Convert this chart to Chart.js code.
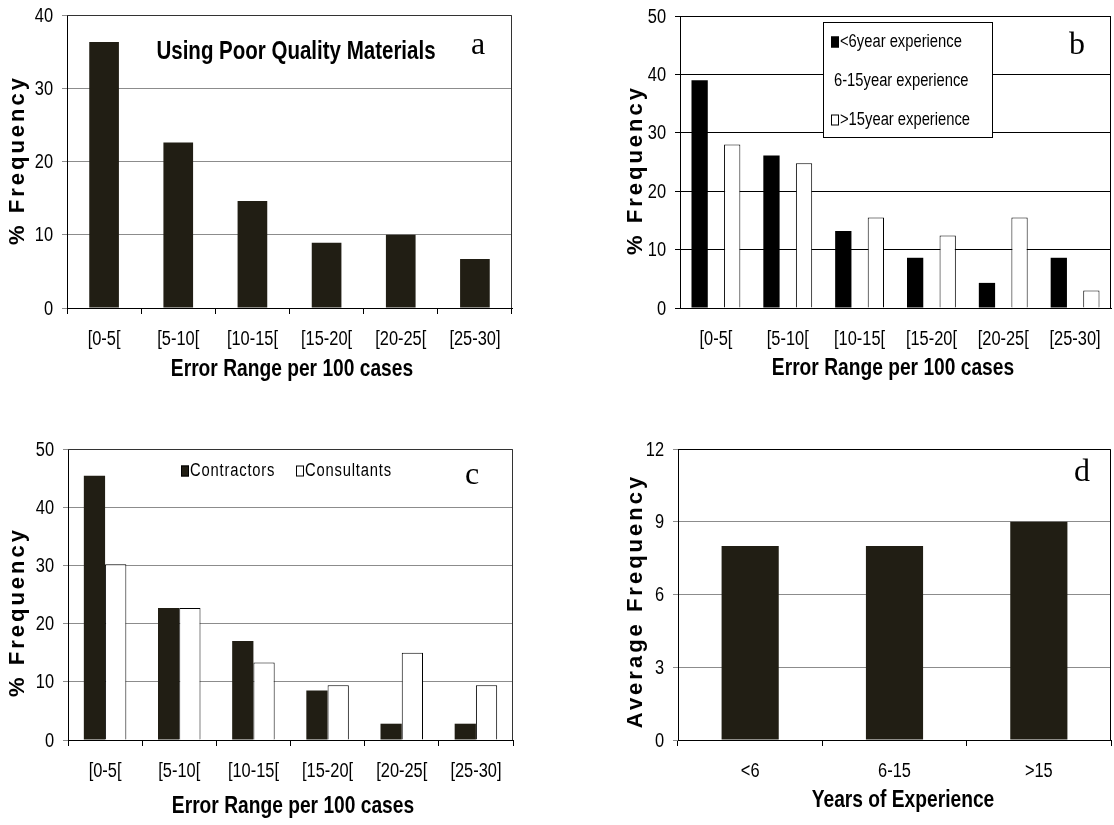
<!DOCTYPE html>
<html>
<head>
<meta charset="utf-8">
<script src="https://cdn.jsdelivr.net/npm/chart.js@4.4.1/dist/chart.umd.min.js"></script>
<style>
  html, body { margin: 0; padding: 0; background: #fff; }
  #page { position: relative; width: 1114px; height: 825px; overflow: hidden; background: #fff; }
  #page canvas { position: absolute; }
</style>
</head>
<body>
<div id="page">
  <canvas id="chartA"></canvas>
  <canvas id="chartB"></canvas>
  <canvas id="chartC"></canvas>
  <canvas id="chartD"></canvas>
</div>
<script>
// ---- data ----
const errorRanges = ['[0-5[', '[5-10[', '[10-15[', '[15-20[', '[20-25[', '[25-30]'];
const poorMaterials = [36.3, 22.6, 14.6, 8.9, 10.0, 6.7];
const expUnder6 = [39.0, 26.1, 13.2, 8.6, 4.3, 8.6];
const exp6to15 = [null, null, null, null, null, null];
const expOver15 = [28.0, 24.8, 15.5, 12.4, 15.5, 3.0];
const contractors = [45.4, 22.7, 17.0, 8.5, 2.8, 2.8];
const consultants = [30.2, 22.7, 13.3, 9.4, 15.0, 9.4];
const experienceGroups = ['<6', '6-15', '>15'];
const averageFrequency = [8, 8, 9];
const ticksPct40 = [0, 10, 20, 30, 40];
const ticksPct50 = [0, 10, 20, 30, 40, 50];
const ticksAvg = [0, 3, 6, 9, 12];

// ---- styling ----
// condensed lettering is obtained by squeezing Liberation Sans horizontally
const SANS = "'Liberation Sans', Arial, sans-serif";
const SERIF = "'Liberation Serif', 'Times New Roman', serif";
const NARROW_X = 0.82;
const DARK = '#211e14';

// outline of the plotting area (top and right edges)
const framePlugin = {
  id: 'frame',
  beforeDatasetsDraw(chart, args, opts) {
    const { ctx, chartArea: a } = chart;
    ctx.save();
    ctx.strokeStyle = opts.color || '#000';
    ctx.lineWidth = 1;
    ctx.beginPath();
    ctx.moveTo(a.left, a.top + 0.5);
    ctx.lineTo(a.right - 0.5, a.top + 0.5);
    ctx.lineTo(a.right - 0.5, a.bottom);
    ctx.stroke();
    ctx.restore();
  }
};

function drawText(ctx, text, x, y, font, opts = {}) {
  ctx.save();
  ctx.font = font;
  ctx.fillStyle = '#000';
  ctx.textAlign = opts.align || 'center';
  ctx.textBaseline = 'middle';
  if (opts.spacing) ctx.letterSpacing = opts.spacing;
  ctx.translate(x, y);
  if (opts.rotate) ctx.rotate(opts.rotate);
  if (opts.sx) ctx.scale(opts.sx, 1);
  ctx.fillText(text, 0, 0);
  ctx.restore();
}

function swatch(ctx, x, y, w, h, fill) {
  ctx.save();
  ctx.fillStyle = fill;
  ctx.strokeStyle = '#000';
  ctx.lineWidth = 1;
  ctx.fillRect(x, y - h / 2, w, h);
  ctx.strokeRect(x + 0.5, y - h / 2 + 0.5, w - 1, h - 1);
  ctx.restore();
}

const tickFont = '20px ' + SANS;

function panel(id, box, plot, cfg) {
  const cv = document.getElementById(id);
  cv.width = box.width;
  cv.height = box.height;
  cv.style.left = box.left + 'px';
  cv.style.top = box.top + 'px';
  const yAxisWidth = plot.left - box.left;
  const xAxisHeight = box.top + box.height - plot.bottom;

  const textPlugin = {
    id: 'panelText',
    afterDraw(chart) {
      const ctx = chart.ctx;
      const xs = chart.scales.x, ys = chart.scales.y;
      ctx.save();
      ctx.translate(-box.left, -box.top);
      // category labels under the axis
      cfg.labels.forEach((lab, i) => {
        drawText(ctx, lab, box.left + xs.getPixelForValue(i), plot.bottom + 31, tickFont, { sx: NARROW_X });
      });
      // value labels left of the axis
      cfg.tickValues.forEach(v => {
        drawText(ctx, String(v), plot.left - 14, box.top + ys.getPixelForValue(v) + 1, tickFont, { sx: NARROW_X, align: 'right' });
      });
      cfg.drawExtras(ctx);
      ctx.restore();
    }
  };

  return new Chart(cv, {
    type: 'bar',
    data: { labels: cfg.labels, datasets: cfg.datasets },
    options: {
      responsive: false,
      animation: false,
      devicePixelRatio: 1,
      layout: { padding: { top: plot.top - box.top, right: box.left + box.width - plot.right, left: 0, bottom: 0 } },
      plugins: {
        legend: { display: false },
        tooltip: { enabled: false },
        frame: { color: cfg.frameColor }
      },
      scales: {
        x: {
          grid: { display: cfg.xTickMarks, drawOnChartArea: false, drawTicks: cfg.xTickMarks, tickLength: 6, color: '#000', offset: true },
          border: { display: true, color: '#000', width: 1 },
          ticks: { display: false, autoSkip: false },
          afterFit(scale) { scale.height = xAxisHeight; }
        },
        y: {
          min: 0,
          max: cfg.tickValues[cfg.tickValues.length - 1],
          afterBuildTicks(scale) { scale.ticks = cfg.tickValues.map(v => ({ value: v })); },
          grid: { color: cfg.gridColor, tickLength: 5, tickColor: cfg.gridColor },
          border: { display: true, color: '#000', width: 1 },
          ticks: { display: false },
          afterFit(scale) { scale.width = yAxisWidth; }
        }
      }
    },
    plugins: [framePlugin, textPlugin]
  });
}

const yTitleFont = 'bold 22px ' + SANS;
const xTitleFont = 'bold 24px ' + SANS;
const xTitleSx = 0.8;
const letterFont = '32px ' + SERIF;

// (a) poor quality materials
panel('chartA', { left: 0, top: 0, width: 557, height: 400 }, { left: 67, right: 512, top: 15, bottom: 308 }, {
  labels: errorRanges,
  tickValues: ticksPct40,
  gridColor: '#8c8c8c',
  frameColor: '#333',
  xTickMarks: true,
  datasets: [{ data: poorMaterials, backgroundColor: DARK, categoryPercentage: 1, barPercentage: 0.4 }],
  drawExtras(ctx) {
    drawText(ctx, '% Frequency', 18, 160, yTitleFont, { rotate: -Math.PI / 2, spacing: '3px' });
    drawText(ctx, 'Error Range per 100 cases', 292, 369, xTitleFont, { sx: xTitleSx });
    drawText(ctx, 'Using Poor Quality Materials', 296, 52, 'bold 25px ' + SANS, { sx: 0.82 });
    drawText(ctx, 'a', 478, 46, letterFont);
  }
});

// (b) by years of experience
panel('chartB', { left: 557, top: 0, width: 557, height: 400 }, { left: 680, right: 1111, top: 16, bottom: 308 }, {
  labels: errorRanges,
  tickValues: ticksPct50,
  gridColor: '#000',
  frameColor: '#000',
  xTickMarks: false,
  datasets: [
    { data: expUnder6, backgroundColor: '#000', categoryPercentage: 0.68, barPercentage: 1 },
    { data: exp6to15, backgroundColor: '#808080', categoryPercentage: 0.68, barPercentage: 1 },
    { data: expOver15, backgroundColor: '#fff', borderColor: '#000', borderWidth: 1, categoryPercentage: 0.68, barPercentage: 1 }
  ],
  drawExtras(ctx) {
    drawText(ctx, '% Frequency', 636, 170, yTitleFont, { rotate: -Math.PI / 2, spacing: '3px' });
    drawText(ctx, 'Error Range per 100 cases', 893, 368, xTitleFont, { sx: xTitleSx });
    drawText(ctx, 'b', 1077, 46, letterFont);
    // legend box
    ctx.save();
    ctx.fillStyle = '#fff';
    ctx.fillRect(823, 22, 170, 116);
    ctx.strokeStyle = '#000';
    ctx.lineWidth = 1;
    ctx.strokeRect(823.5, 22.5, 169, 115);
    ctx.restore();
    const lf = '18px ' + SANS;
    swatch(ctx, 831, 42, 8, 11, '#000');
    drawText(ctx, '<6year experience', 840, 42, lf, { align: 'left', sx: NARROW_X });
    drawText(ctx, '6-15year experience', 834, 81, lf, { align: 'left', sx: NARROW_X });
    swatch(ctx, 831, 120, 8, 11, '#fff');
    drawText(ctx, '>15year experience', 840, 120, lf, { align: 'left', sx: NARROW_X });
  }
});

// (c) contractors vs consultants
panel('chartC', { left: 0, top: 400, width: 557, height: 425 }, { left: 68, right: 513, top: 449, bottom: 740 }, {
  labels: errorRanges,
  tickValues: ticksPct50,
  gridColor: '#8c8c8c',
  frameColor: '#333',
  xTickMarks: true,
  datasets: [
    { data: contractors, backgroundColor: DARK, categoryPercentage: 0.573, barPercentage: 1 },
    { data: consultants, backgroundColor: '#fff', borderColor: '#000', borderWidth: 1, categoryPercentage: 0.573, barPercentage: 1 }
  ],
  drawExtras(ctx) {
    drawText(ctx, '% Frequency', 18, 612, yTitleFont, { rotate: -Math.PI / 2, spacing: '3px' });
    drawText(ctx, 'Error Range per 100 cases', 293, 806, xTitleFont, { sx: xTitleSx });
    drawText(ctx, 'c', 472, 476, letterFont);
    const lf = '18px ' + SANS;
    swatch(ctx, 181, 471, 8, 11, DARK);
    drawText(ctx, 'Contractors', 190, 471, lf, { align: 'left', sx: NARROW_X, spacing: '1px' });
    swatch(ctx, 296, 471, 8, 11, '#fff');
    drawText(ctx, 'Consultants', 305, 471, lf, { align: 'left', sx: NARROW_X, spacing: '1px' });
  }
});

// (d) average frequency by experience
panel('chartD', { left: 557, top: 400, width: 557, height: 425 }, { left: 678, right: 1111, top: 449, bottom: 740 }, {
  labels: experienceGroups,
  tickValues: ticksAvg,
  gridColor: '#8c8c8c',
  frameColor: '#000',
  xTickMarks: true,
  datasets: [{ data: averageFrequency, backgroundColor: DARK, categoryPercentage: 1, barPercentage: 0.396 }],
  drawExtras(ctx) {
    drawText(ctx, 'Average Frequency', 636, 601, yTitleFont, { rotate: -Math.PI / 2, spacing: '3px' });
    drawText(ctx, 'Years of Experience', 903, 800, xTitleFont, { sx: xTitleSx });
    drawText(ctx, 'd', 1082, 473, letterFont);
  }
});
</script>
</body>
</html>
